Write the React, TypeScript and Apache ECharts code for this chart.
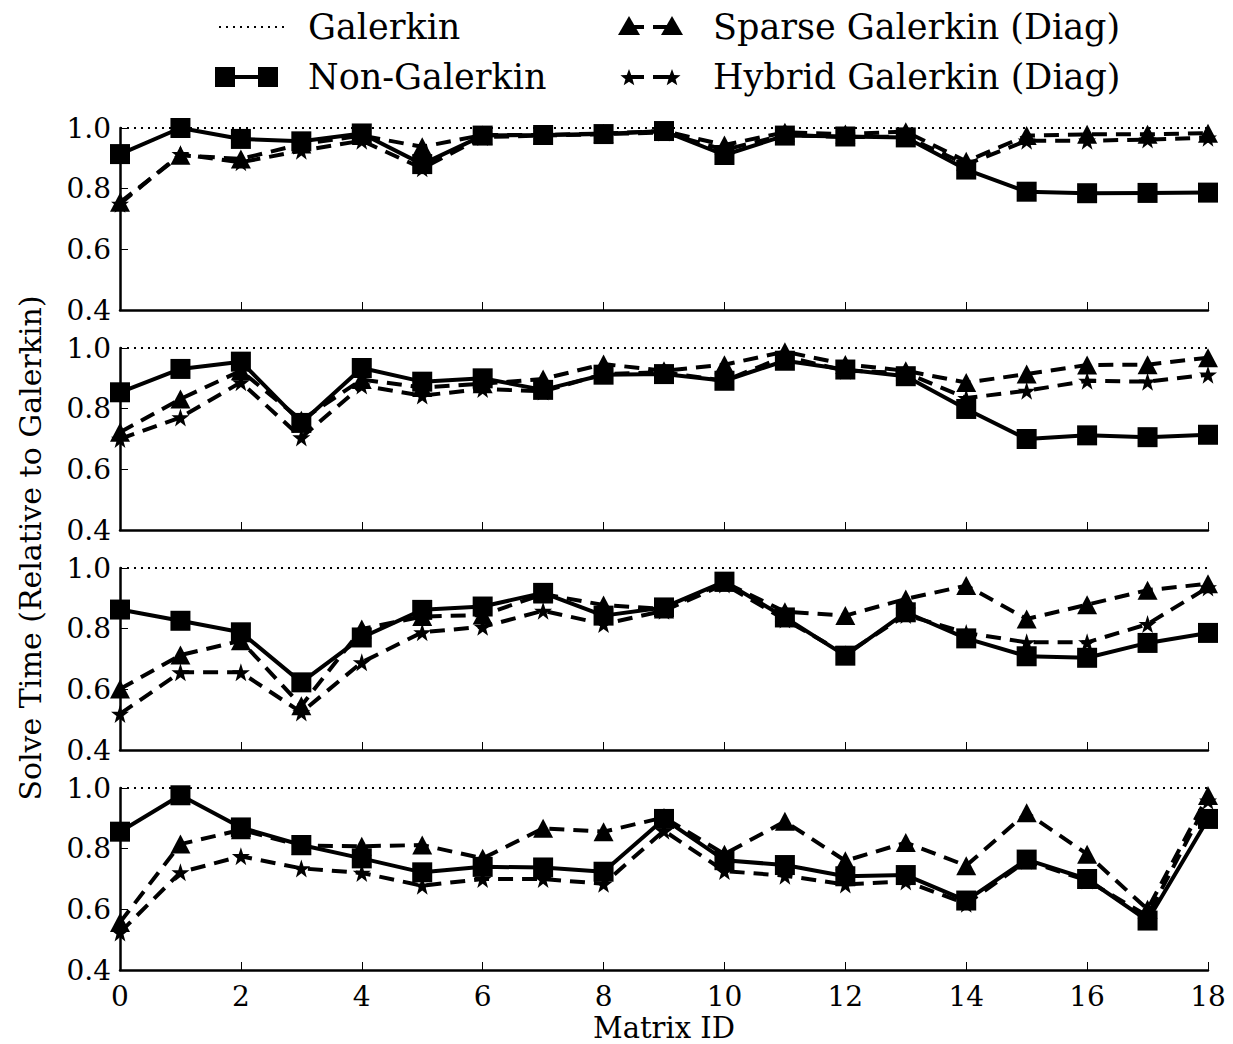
import React, { useEffect, useRef } from "react";
import * as echarts from "echarts";

// Matrix IDs shared by every panel
const matrixIds = [0, 1, 2, 3, 4, 5, 6, 7, 8, 9, 10, 11, 12, 13, 14, 15, 16, 17, 18];

// Galerkin reference (every solve time is relative to it)
const galerkin = [1, 1, 1, 1, 1, 1, 1, 1, 1, 1, 1, 1, 1, 1, 1, 1, 1, 1, 1];

// Panel 1
const nonGalerkin1 = [0.914, 1.0, 0.964, 0.956, 0.982, 0.881, 0.975, 0.977, 0.98, 0.99, 0.911, 0.975, 0.972, 0.969, 0.863, 0.79, 0.785, 0.786, 0.787];
const sparse1 = [0.755, 0.91, 0.898, 0.947, 0.975, 0.938, 0.977, 0.977, 0.982, 0.99, 0.944, 0.986, 0.98, 0.988, 0.89, 0.975, 0.979, 0.979, 0.983];
const hybrid1 = [0.75, 0.914, 0.887, 0.925, 0.958, 0.867, 0.97, 0.975, 0.98, 0.985, 0.928, 0.977, 0.97, 0.972, 0.88, 0.958, 0.958, 0.962, 0.968];

// Panel 2
const nonGalerkin2 = [0.854, 0.931, 0.955, 0.753, 0.934, 0.889, 0.9, 0.862, 0.912, 0.914, 0.892, 0.958, 0.929, 0.907, 0.799, 0.7, 0.712, 0.706, 0.714];
const sparse2 = [0.722, 0.832, 0.925, 0.762, 0.896, 0.87, 0.882, 0.898, 0.947, 0.925, 0.945, 0.988, 0.946, 0.925, 0.886, 0.914, 0.944, 0.945, 0.968];
const hybrid2 = [0.7, 0.771, 0.887, 0.705, 0.876, 0.843, 0.865, 0.857, 0.914, 0.92, 0.892, 0.972, 0.925, 0.918, 0.835, 0.859, 0.892, 0.889, 0.912];

// Panel 3
const nonGalerkin3 = [0.863, 0.826, 0.788, 0.623, 0.771, 0.862, 0.873, 0.918, 0.843, 0.87, 0.955, 0.837, 0.711, 0.854, 0.768, 0.709, 0.704, 0.753, 0.786];
const sparse3 = [0.601, 0.713, 0.76, 0.546, 0.799, 0.84, 0.845, 0.914, 0.878, 0.865, 0.953, 0.856, 0.843, 0.898, 0.942, 0.832, 0.879, 0.927, 0.948];
const hybrid3 = [0.519, 0.656, 0.656, 0.524, 0.689, 0.788, 0.806, 0.859, 0.815, 0.859, 0.946, 0.83, 0.716, 0.845, 0.786, 0.755, 0.755, 0.815, 0.936];

// Panel 4
const nonGalerkin4 = [0.856, 0.976, 0.87, 0.812, 0.768, 0.722, 0.74, 0.738, 0.724, 0.898, 0.762, 0.746, 0.709, 0.713, 0.629, 0.764, 0.7, 0.563, 0.898];
const sparse4 = [0.557, 0.815, 0.862, 0.81, 0.808, 0.812, 0.768, 0.867, 0.856, 0.903, 0.782, 0.89, 0.76, 0.82, 0.744, 0.918, 0.782, 0.6, 0.975];
const hybrid4 = [0.524, 0.722, 0.775, 0.735, 0.72, 0.678, 0.7, 0.7, 0.684, 0.859, 0.726, 0.711, 0.682, 0.692, 0.618, 0.76, 0.695, 0.578, 0.958];

const panels = [
  { nonGalerkin: nonGalerkin1, sparse: sparse1, hybrid: hybrid1 },
  { nonGalerkin: nonGalerkin2, sparse: sparse2, hybrid: hybrid2 },
  { nonGalerkin: nonGalerkin3, sparse: sparse3, hybrid: hybrid3 },
  { nonGalerkin: nonGalerkin4, sparse: sparse4, hybrid: hybrid4 },
];

const yTicks = [0.4, 0.6, 0.8, 1.0];
const legendNames = ["Galerkin", "Non-Galerkin", "Sparse Galerkin (Diag)", "Hybrid Galerkin (Diag)"];

const FONT = "DejaVu Serif";
const STAR = "path://M50,0 L61.8,35.1 L98.9,35.1 L69,57 L79.4,92 L50,70.5 L20.6,92 L31,57 L1.1,35.1 L38.2,35.1 Z";
const DASH = [15, 9];

const PLOT_LEFT = 120;
const PLOT_RIGHT = 1208;
const PANEL_TOPS = [128, 348, 568, 788];
const PANEL_H = 182;

function pairs(ys: number[]) {
  return matrixIds.map((x, i) => [x, ys[i]]);
}

function starPoints(cx: number, cy: number, r: number) {
  const pts: number[][] = [];
  for (let k = 0; k < 10; k++) {
    const rad = k % 2 === 0 ? r : r * 0.42;
    const a = -Math.PI / 2 + (k * Math.PI) / 5;
    pts.push([cx + rad * Math.cos(a), cy + rad * Math.sin(a)]);
  }
  return pts;
}

function legendGraphics() {
  const els: any[] = [];
  const black = "#000";
  const textStyle = (x: number, y: number, t: string) => ({
    type: "text",
    x,
    y,
    style: { text: t, fill: black, font: `35px '${FONT}'`, textVerticalAlign: "middle", textAlign: "left" },
  });
  // Galerkin: dotted line
  els.push({ type: "line", shape: { x1: 219, y1: 27, x2: 284, y2: 27 }, style: { stroke: black, lineWidth: 2, lineDash: [2, 5] } });
  els.push(textStyle(308, 27, legendNames[0]));
  // Non-Galerkin: solid with squares
  els.push({ type: "line", shape: { x1: 225, y1: 77, x2: 268, y2: 77 }, style: { stroke: black, lineWidth: 4 } });
  els.push({ type: "rect", shape: { x: 215, y: 67, width: 20, height: 20 }, style: { fill: black } });
  els.push({ type: "rect", shape: { x: 258, y: 67, width: 20, height: 20 }, style: { fill: black } });
  els.push(textStyle(308, 77, legendNames[1]));
  // Sparse Galerkin: dashed with triangles
  els.push({ type: "line", shape: { x1: 629, y1: 27, x2: 672, y2: 27 }, style: { stroke: black, lineWidth: 4, lineDash: DASH } });
  els.push({ type: "polygon", shape: { points: [[629, 16], [640, 35], [618, 35]] }, style: { fill: black } });
  els.push({ type: "polygon", shape: { points: [[672, 16], [683, 35], [661, 35]] }, style: { fill: black } });
  els.push(textStyle(713, 27, legendNames[2]));
  // Hybrid Galerkin: dashed with stars
  els.push({ type: "line", shape: { x1: 629, y1: 77, x2: 672, y2: 77 }, style: { stroke: black, lineWidth: 4, lineDash: DASH } });
  els.push({ type: "polygon", shape: { points: starPoints(629, 78, 9) }, style: { fill: black } });
  els.push({ type: "polygon", shape: { points: starPoints(672, 78, 9) }, style: { fill: black } });
  els.push(textStyle(713, 77, legendNames[3]));
  // shared y-axis title
  els.push({
    type: "text",
    x: 30,
    y: 548,
    rotation: Math.PI / 2,
    style: { text: "Solve Time (Relative to Galerkin)", fill: black, font: `30px '${FONT}'`, textAlign: "center", textVerticalAlign: "middle" },
  });
  // x-axis title under the bottom panel
  els.push({
    type: "text",
    x: (PLOT_LEFT + PLOT_RIGHT) / 2,
    y: 1042,
    style: {
      text: "Matrix ID",
      fill: black,
      font: `29px '${FONT}'`,
      lineHeight: 28,
      textAlign: "center",
      textVerticalAlign: "bottom",
    },
  });
  return els;
}

export default function App() {
  const ref = useRef<HTMLDivElement>(null);

  useEffect(() => {
    document.body.style.margin = "0";
    if (!ref.current) return;
    const chart = echarts.init(ref.current, undefined, { renderer: "svg" });

    const grids = PANEL_TOPS.map((top) => ({
      left: PLOT_LEFT,
      top,
      width: PLOT_RIGHT - PLOT_LEFT,
      height: PANEL_H,
      containLabel: false,
      outerBoundsMode: "none",
    }));

    const xAxes = PANEL_TOPS.map((_, i) => ({
      type: "value",
      gridIndex: i,
      min: 0,
      max: 18,
      interval: 2,
      axisLine: { show: true, onZero: false, lineStyle: { color: "#000", width: 2.5 } },
      axisTick: { show: true, inside: true, length: 8, lineStyle: { color: "#000", width: 1 } },
      axisLabel: {
        show: i === 3,
        color: "#000",
        fontFamily: FONT,
        fontSize: 28,
        lineHeight: 28,
        margin: 12,
      },
      splitLine: { show: false },
    }));

    const yAxes = PANEL_TOPS.map((_, i) => ({
      type: "value",
      gridIndex: i,
      min: yTicks[0],
      max: yTicks[yTicks.length - 1],
      interval: 0.2,
      axisLine: { show: true, lineStyle: { color: "#000", width: 2.5 } },
      axisTick: { show: true, inside: true, length: 8, lineStyle: { color: "#000", width: 1 } },
      axisLabel: {
        color: "#000",
        fontFamily: FONT,
        fontSize: 28,
        margin: 9,
        formatter: (v: number) => v.toFixed(1),
      },
      splitLine: { show: false },
    }));

    const series: any[] = [];
    panels.forEach((p, i) => {
      series.push({
        name: legendNames[0],
        type: "line",
        xAxisIndex: i,
        yAxisIndex: i,
        data: pairs(galerkin),
        showSymbol: false,
        symbol: "none",
        clip: false,
        lineStyle: { color: "#000", width: 2, type: [2, 5] },
        z: 2,
      });
      series.push({
        name: legendNames[1],
        type: "line",
        xAxisIndex: i,
        yAxisIndex: i,
        data: pairs(p.nonGalerkin),
        symbol: "rect",
        symbolSize: 20,
        clip: false,
        itemStyle: { color: "#000" },
        lineStyle: { color: "#000", width: 4 },
        z: 3,
      });
      series.push({
        name: legendNames[2],
        type: "line",
        xAxisIndex: i,
        yAxisIndex: i,
        data: pairs(p.sparse),
        symbol: "triangle",
        symbolSize: [20, 19],
        clip: false,
        itemStyle: { color: "#000" },
        lineStyle: { color: "#000", width: 4, type: DASH },
        z: 4,
      });
      series.push({
        name: legendNames[3],
        type: "line",
        xAxisIndex: i,
        yAxisIndex: i,
        data: pairs(p.hybrid),
        symbol: STAR,
        symbolSize: 18,
        clip: false,
        itemStyle: { color: "#000" },
        lineStyle: { color: "#000", width: 4, type: DASH },
        z: 5,
      });
    });

    chart.setOption({
      animation: false,
      backgroundColor: "#fff",
      grid: grids,
      xAxis: xAxes,
      yAxis: yAxes,
      series,
      graphic: legendGraphics(),
    });

    return () => chart.dispose();
  }, []);

  return <div ref={ref} style={{ width: 1233, height: 1044 }} />;
}
